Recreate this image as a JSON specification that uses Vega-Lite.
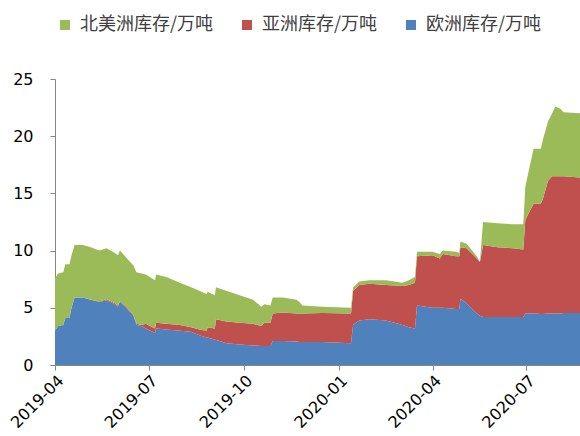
{
  "$schema": "https://vega.github.io/schema/vega-lite/v6.json",
  "width": 525,
  "height": 286,
  "autosize": {"type": "none"},
  "padding": {"left": 55, "top": 79, "right": 0, "bottom": 71},
  "background": "white",
  "config": {"view": {"stroke": null}},
  "datasets": {
    "ranks": [
      {"series": "欧洲库存/万吨", "rank": 1},
      {"series": "亚洲库存/万吨", "rank": 2},
      {"series": "北美洲库存/万吨", "rank": 3}
    ]
  },
  "data": {"values": [
    {"date":"2019-04-01","欧洲库存/万吨":3.0,"亚洲库存/万吨":0,"北美洲库存/万吨":4.6},
    {"date":"2019-04-04","欧洲库存/万吨":3.4,"亚洲库存/万吨":0,"北美洲库存/万吨":4.6},
    {"date":"2019-04-09","欧洲库存/万吨":3.5,"亚洲库存/万吨":0,"北美洲库存/万吨":4.6},
    {"date":"2019-04-11","欧洲库存/万吨":4.1,"亚洲库存/万吨":0,"北美洲库存/万吨":4.7},
    {"date":"2019-04-15","欧洲库存/万吨":4.1,"亚洲库存/万吨":0,"北美洲库存/万吨":4.7},
    {"date":"2019-04-17","欧洲库存/万吨":5.0,"亚洲库存/万吨":0,"北美洲库存/万吨":4.6},
    {"date":"2019-04-20","欧洲库存/万吨":5.9,"亚洲库存/万吨":0,"北美洲库存/万吨":4.6},
    {"date":"2019-04-28","欧洲库存/万吨":5.9,"亚洲库存/万吨":0,"北美洲库存/万吨":4.6},
    {"date":"2019-05-05","欧洲库存/万吨":5.7,"亚洲库存/万吨":0.02,"北美洲库存/万吨":4.6},
    {"date":"2019-05-14","欧洲库存/万吨":5.5,"亚洲库存/万吨":0.05,"北美洲库存/万吨":4.45},
    {"date":"2019-05-21","欧洲库存/万吨":5.65,"亚洲库存/万吨":0.1,"北美洲库存/万吨":4.45},
    {"date":"2019-05-29","欧洲库存/万吨":5.3,"亚洲库存/万吨":0.1,"北美洲库存/万吨":4.4},
    {"date":"2019-06-01","欧洲库存/万吨":5.1,"亚洲库存/万吨":0.1,"北美洲库存/万吨":4.4},
    {"date":"2019-06-03","欧洲库存/万吨":5.55,"亚洲库存/万吨":0.05,"北美洲库存/万吨":4.4},
    {"date":"2019-06-09","欧洲库存/万吨":5.0,"亚洲库存/万吨":0.1,"北美洲库存/万吨":4.3},
    {"date":"2019-06-16","欧洲库存/万吨":4.3,"亚洲库存/万吨":0.1,"北美洲库存/万吨":4.3},
    {"date":"2019-06-19","欧洲库存/万吨":3.5,"亚洲库存/万吨":0.1,"北美洲库存/万吨":4.5},
    {"date":"2019-06-24","欧洲库存/万吨":3.4,"亚洲库存/万吨":0.1,"北美洲库存/万吨":4.5},
    {"date":"2019-06-28","欧洲库存/万吨":3.2,"亚洲库存/万吨":0.4,"北美洲库存/万吨":4.3},
    {"date":"2019-07-07","欧洲库存/万吨":2.8,"亚洲库存/万吨":0.4,"北美洲库存/万吨":4.2},
    {"date":"2019-07-08","欧洲库存/万吨":3.2,"亚洲库存/万吨":0.5,"北美洲库存/万吨":4.2},
    {"date":"2019-07-18","欧洲库存/万吨":3.1,"亚洲库存/万吨":0.5,"北美洲库存/万吨":4.1},
    {"date":"2019-07-31","欧洲库存/万吨":3.0,"亚洲库存/万吨":0.5,"北美洲库存/万吨":3.7},
    {"date":"2019-08-11","欧洲库存/万吨":2.9,"亚洲库存/万吨":0.4,"北美洲库存/万吨":3.5},
    {"date":"2019-08-19","欧洲库存/万吨":2.6,"亚洲库存/万吨":0.5,"北美洲库存/万吨":3.4},
    {"date":"2019-08-26","欧洲库存/万吨":2.4,"亚洲库存/万吨":0.6,"北美洲库存/万吨":3.2},
    {"date":"2019-08-27","欧洲库存/万吨":2.4,"亚洲库存/万吨":0.9,"北美洲库存/万吨":3.1},
    {"date":"2019-09-03","欧洲库存/万吨":2.2,"亚洲库存/万吨":1.0,"北美洲库存/万吨":2.9},
    {"date":"2019-09-04","欧洲库存/万吨":2.2,"亚洲库存/万吨":1.8,"北美洲库存/万吨":2.8},
    {"date":"2019-09-14","欧洲库存/万吨":1.9,"亚洲库存/万吨":1.9,"北美洲库存/万吨":2.7},
    {"date":"2019-09-27","欧洲库存/万吨":1.8,"亚洲库存/万吨":1.9,"北美洲库存/万吨":2.4},
    {"date":"2019-10-10","欧洲库存/万吨":1.7,"亚洲库存/万吨":1.9,"北美洲库存/万吨":2.1},
    {"date":"2019-10-18","欧洲库存/万吨":1.65,"亚洲库存/万吨":1.75,"北美洲库存/万吨":1.7},
    {"date":"2019-10-21","欧洲库存/万吨":1.65,"亚洲库存/万吨":2.05,"北美洲库存/万吨":1.6},
    {"date":"2019-10-27","欧洲库存/万吨":1.65,"亚洲库存/万吨":2.05,"北美洲库存/万吨":1.5},
    {"date":"2019-10-29","欧洲库存/万吨":2.1,"亚洲库存/万吨":2.4,"北美洲库存/万吨":1.4},
    {"date":"2019-11-08","欧洲库存/万吨":2.1,"亚洲库存/万吨":2.5,"北美洲库存/万吨":1.3},
    {"date":"2019-11-21","欧洲库存/万吨":2.05,"亚洲库存/万吨":2.45,"北美洲库存/万吨":1.2},
    {"date":"2019-11-24","欧洲库存/万吨":2.0,"亚洲库存/万吨":2.5,"北美洲库存/万吨":1.0},
    {"date":"2019-11-27","欧洲库存/万吨":2.0,"亚洲库存/万吨":2.5,"北美洲库存/万吨":0.7},
    {"date":"2019-12-16","欧洲库存/万吨":2.0,"亚洲库存/万吨":2.55,"北美洲库存/万吨":0.55},
    {"date":"2020-01-13","欧洲库存/万吨":1.9,"亚洲库存/万吨":2.6,"北美洲库存/万吨":0.5},
    {"date":"2020-01-15","欧洲库存/万吨":3.5,"亚洲库存/万吨":3.0,"北美洲库存/万吨":0.3},
    {"date":"2020-01-21","欧洲库存/万吨":3.9,"亚洲库存/万吨":3.1,"北美洲库存/万吨":0.3},
    {"date":"2020-01-31","欧洲库存/万吨":4.0,"亚洲库存/万吨":3.1,"北美洲库存/万吨":0.3},
    {"date":"2020-02-16","欧洲库存/万吨":3.9,"亚洲库存/万吨":3.1,"北美洲库存/万吨":0.4},
    {"date":"2020-03-03","欧洲库存/万吨":3.5,"亚洲库存/万吨":3.4,"北美洲库存/万吨":0.3},
    {"date":"2020-03-09","欧洲库存/万吨":3.3,"亚洲库存/万吨":3.7,"北美洲库存/万吨":0.4},
    {"date":"2020-03-15","欧洲库存/万吨":3.2,"亚洲库存/万吨":4.0,"北美洲库存/万吨":0.5},
    {"date":"2020-03-17","欧洲库存/万吨":5.2,"亚洲库存/万吨":4.3,"北美洲库存/万吨":0.4},
    {"date":"2020-04-01","欧洲库存/万吨":5.0,"亚洲库存/万吨":4.6,"北美洲库存/万吨":0.3},
    {"date":"2020-04-08","欧洲库存/万吨":5.0,"亚洲库存/万吨":4.3,"北美洲库存/万吨":0.4},
    {"date":"2020-04-11","欧洲库存/万吨":5.0,"亚洲库存/万吨":4.7,"北美洲库存/万吨":0.3},
    {"date":"2020-04-24","欧洲库存/万吨":4.9,"亚洲库存/万吨":4.6,"北美洲库存/万吨":0.4},
    {"date":"2020-04-27","欧洲库存/万吨":4.9,"亚洲库存/万吨":4.6,"北美洲库存/万吨":0.3},
    {"date":"2020-04-28","欧洲库存/万吨":5.8,"亚洲库存/万吨":4.5,"北美洲库存/万吨":0.5},
    {"date":"2020-05-04","欧洲库存/万吨":5.4,"亚洲库存/万吨":4.8,"北美洲库存/万吨":0.4},
    {"date":"2020-05-14","欧洲库存/万吨":4.5,"亚洲库存/万吨":4.8,"北美洲库存/万吨":0.2},
    {"date":"2020-05-17","欧洲库存/万吨":4.3,"亚洲库存/万吨":4.7,"北美洲库存/万吨":0.0},
    {"date":"2020-05-20","欧洲库存/万吨":4.2,"亚洲库存/万吨":6.3,"北美洲库存/万吨":2.0},
    {"date":"2020-06-03","欧洲库存/万吨":4.2,"亚洲库存/万吨":6.1,"北美洲库存/万吨":2.1},
    {"date":"2020-06-18","欧洲库存/万吨":4.2,"亚洲库存/万吨":6.0,"北美洲库存/万吨":2.1},
    {"date":"2020-06-28","欧洲库存/万吨":4.2,"亚洲库存/万吨":5.9,"北美洲库存/万吨":2.2},
    {"date":"2020-06-30","欧洲库存/万吨":4.5,"亚洲库存/万吨":8.2,"北美洲库存/万吨":2.9},
    {"date":"2020-07-08","欧洲库存/万吨":4.5,"亚洲库存/万吨":9.6,"北美洲库存/万吨":4.8},
    {"date":"2020-07-15","欧洲库存/万吨":4.45,"亚洲库存/万吨":9.65,"北美洲库存/万吨":4.8},
    {"date":"2020-07-17","欧洲库存/万吨":4.45,"亚洲库存/万吨":10.05,"北美洲库存/万吨":5.2},
    {"date":"2020-07-22","欧洲库存/万吨":4.5,"亚洲库存/万吨":11.6,"北美洲库存/万吨":5.2},
    {"date":"2020-07-26","欧洲库存/万吨":4.5,"亚洲库存/万吨":12.0,"北美洲库存/万吨":5.5},
    {"date":"2020-07-29","欧洲库存/万吨":4.5,"亚洲库存/万吨":12.0,"北美洲库存/万吨":6.1},
    {"date":"2020-08-03","欧洲库存/万吨":4.5,"亚洲库存/万吨":12.0,"北美洲库存/万吨":5.9},
    {"date":"2020-08-06","欧洲库存/万吨":4.55,"亚洲库存/万吨":11.95,"北美洲库存/万吨":5.6},
    {"date":"2020-08-22","欧洲库存/万吨":4.55,"亚洲库存/万吨":11.85,"北美洲库存/万吨":5.6}
  ]},
  "transform": [
    {"fold": ["欧洲库存/万吨", "亚洲库存/万吨", "北美洲库存/万吨"], "as": ["series", "value"]},
    {"lookup": "series", "from": {"data": {"name": "ranks"}, "key": "series", "fields": ["rank"]}}
  ],
  "mark": {"type": "area", "interpolate": "linear", "strokeWidth": 0},
  "encoding": {
    "x": {
      "field": "date", "type": "temporal",
      "scale": {"type": "utc", "domain": [{"year": 2019, "month": 4, "date": 1, "utc": true}, {"year": 2020, "month": 8, "date": 22, "utc": true}], "nice": false},
      "axis": {
        "title": null,
        "values": [
          {"year": 2019, "month": 4, "date": 1, "utc": true},
          {"year": 2019, "month": 7, "date": 1, "utc": true},
          {"year": 2019, "month": 10, "date": 1, "utc": true},
          {"year": 2020, "month": 1, "date": 1, "utc": true},
          {"year": 2020, "month": 4, "date": 1, "utc": true},
          {"year": 2020, "month": 7, "date": 1, "utc": true}
        ],
        "labelExpr": "utcFormat(datum.value, '%Y-%m')",
        "labelAngle": -45, "labelAlign": "right", "labelBaseline": "top",
        "labelFont": "DejaVu Sans", "labelFontSize": 16, "labelColor": "#000000",
        "labelPadding": 2, "labelFlush": false, "labelOverlap": false, "labelBound": false,
        "grid": false, "domainColor": "#868686", "tickColor": "#868686", "tickSize": 5
      }
    },
    "y": {
      "field": "value", "type": "quantitative", "stack": "zero",
      "scale": {"domain": [0, 25], "nice": false},
      "axis": {
        "title": null, "values": [0, 5, 10, 15, 20, 25],
        "labelFont": "DejaVu Sans", "labelFontSize": 16, "labelColor": "#000000",
        "labelPadding": 17, "grid": false,
        "domainColor": "#868686", "tickColor": "#868686", "tickSize": 5
      }
    },
    "color": {
      "field": "series", "type": "nominal",
      "scale": {
        "domain": ["北美洲库存/万吨", "亚洲库存/万吨", "欧洲库存/万吨"],
        "range": ["#9BBB59", "#C0504D", "#4F81BD"]
      },
      "legend": {
        "title": null, "orient": "none", "legendX": 1, "legendY": -63,
        "direction": "horizontal", "symbolType": "square", "symbolSize": 100,
        "symbolStrokeWidth": 0, "labelFont": "Noto Sans CJK SC", "labelFontSize": 18,
        "labelColor": "#404040", "labelOffset": 6, "columnPadding": 24, "padding": 0
      }
    },
    "order": {"field": "rank", "type": "quantitative"}
  }
}
